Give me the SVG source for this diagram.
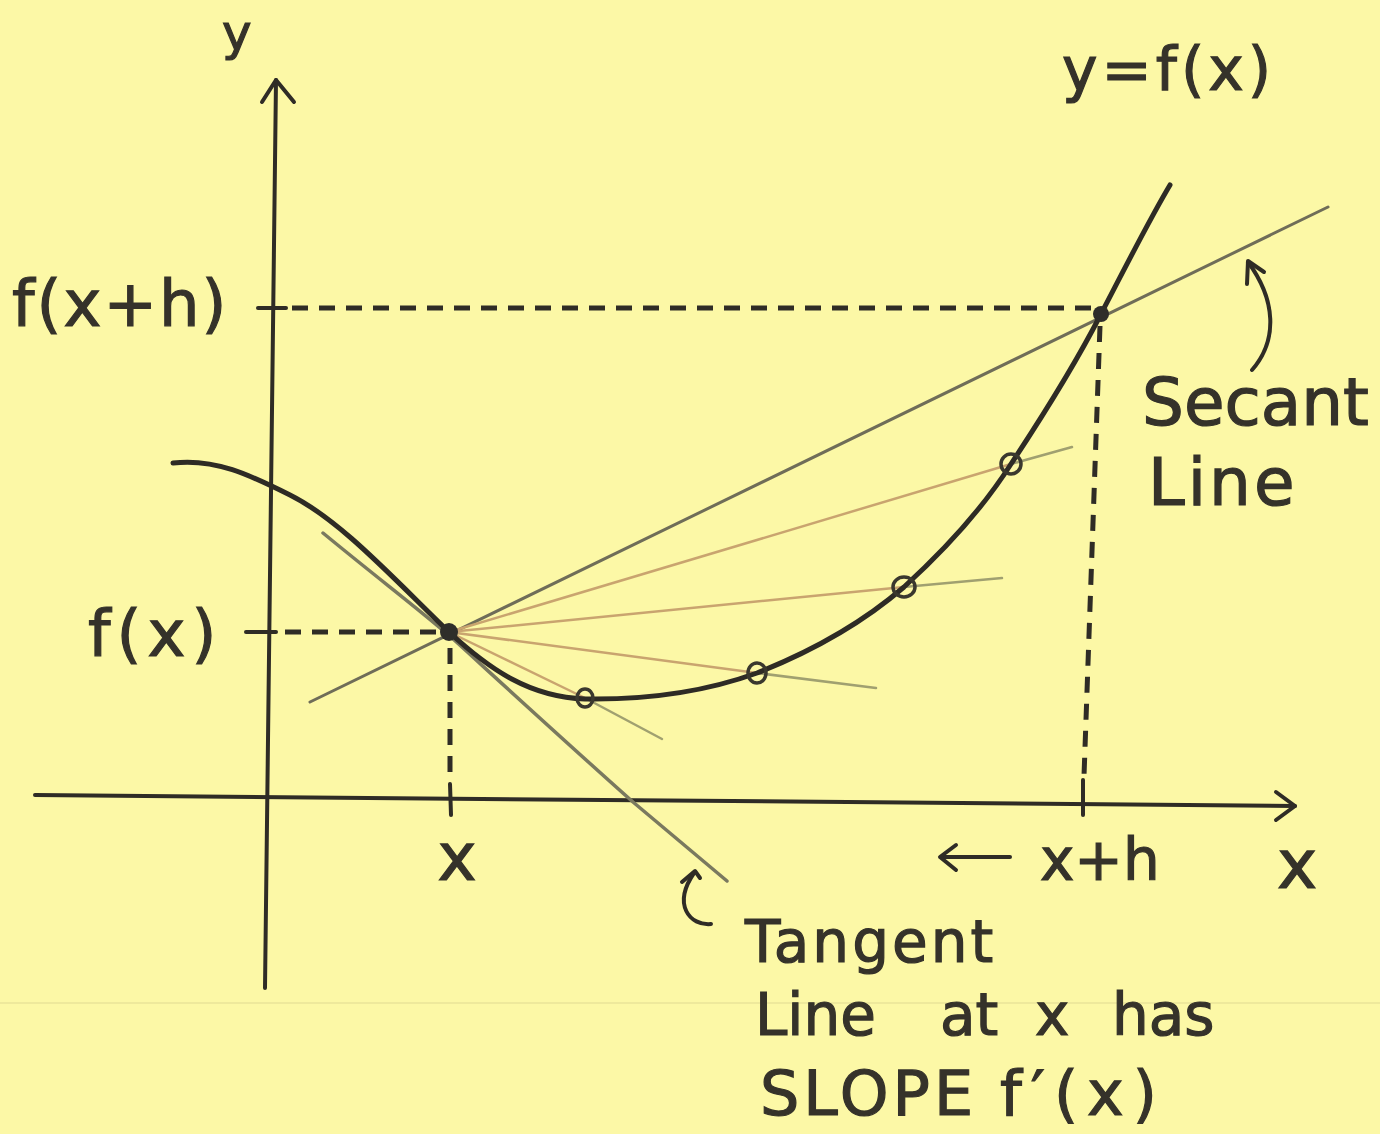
<svg xmlns="http://www.w3.org/2000/svg" width="1380" height="1134" viewBox="0 0 1380 1134">
<style>
.ink{stroke:#2f2c26;fill:none;stroke-linecap:round;stroke-linejoin:round}
.axis{stroke-width:4}
.dash{stroke:#2f2c26;stroke-width:5;stroke-dasharray:16 11;fill:none}
.curve{stroke:#2e2b25;stroke-width:5;fill:none;stroke-linecap:round}
.sec{stroke:#6f6d58;stroke-width:3;fill:none;stroke-linecap:round}
.tan{stroke:#7a795f;stroke-width:3.5;fill:none;stroke-linecap:round}
.fan{stroke:#c9a46f;stroke-width:2.5;fill:none}
.ext{stroke:#a0a070;stroke-width:2.5;fill:none;stroke-linecap:round}
.ring{stroke:#3a382e;stroke-width:3.5;fill:none}
.lbl{font-family:"DejaVu Sans",sans-serif;fill:#35322a;stroke:#35322a;stroke-width:1.2}
</style>
<rect width="1380" height="1134" fill="#fcf8a6"/>
<line x1="0" y1="1003" x2="1380" y2="1003" stroke="#eee99c" stroke-width="2"/>

<g id="axes">
  <path class="ink axis" d="M276,80 L265,988"/>
  <path class="ink axis" d="M262,102 L276,80 L294,102"/>
  <path class="ink axis" d="M35,795 L1295,806"/>
  <path class="ink axis" d="M1276,792 L1295,806 L1276,820"/>
  <path class="ink axis" d="M258,308 L286,308"/>
  <path class="ink axis" d="M246,632 L276,632"/>
  <path class="ink axis" d="M450,784 L451,815"/>
  <path class="ink axis" d="M1083,780 L1083,815"/>
</g>

<g id="connectors">
  <path class="dash" d="M292,308 L1092,308"/>
  <path class="dash" d="M285,632 L440,632"/>
  <path class="dash" d="M450,648 L450,782"/>
  <path class="dash" d="M1100,326 L1084,776"/>
  <path class="tan" d="M323,533 C380,580 420,610 452,638 C520,700 580,755 633,802 L727,881"/>
  <path class="sec" d="M310,702 L1328,207"/>
  <path class="fan" d="M449,632 L1011,464"/>
  <path class="ext" d="M1011,464 L1072,447"/>
  <path class="fan" d="M449,632 L904,587"/>
  <path class="ext" d="M904,587 L1002,578"/>
  <path class="fan" d="M449,632 L757,673"/>
  <path class="ext" d="M757,673 L876,688"/>
  <path class="fan" d="M449,632 L585,698"/>
  <path class="ext" d="M585,698 L662,739"/>
  <path class="ink" stroke-width="4" d="M1252,370 C1278,340 1276,300 1248,262"/>
  <path class="ink" stroke-width="4" d="M1247,284 L1248,261 L1264,272"/>
  <path class="ink" stroke-width="4" d="M711,924 C690,926 672,905 694,873"/>
  <path class="ink" stroke-width="4" d="M682,882 L695,871 L700,878"/>
  <path class="ink" stroke-width="4" d="M1010,857 L942,857"/>
  <path class="ink" stroke-width="4" d="M956,845 L940,857 L956,870"/>
</g>

<g id="curve">
  <path class="curve" d="M173,463 C215,458 250,475 290,495 C340,520 390,575 449,632 C490,670 530,697 585,699 C650,700 710,690 757,673 C810,652 860,625 904,587 C950,545 985,505 1011,464 C1050,405 1080,355 1101,314 C1125,268 1148,222 1170,185"/>
</g>

<g id="point-x"><circle cx="449" cy="632" r="9" fill="#2f2e2a"/></g>
<g id="point-xh"><circle cx="1101" cy="314" r="8" fill="#2f2e2a"/></g>
<g id="circle-1"><ellipse class="ring" cx="585" cy="698" rx="8" ry="9"/></g>
<g id="circle-2"><ellipse class="ring" cx="757" cy="673" rx="9" ry="10"/></g>
<g id="circle-3"><ellipse class="ring" cx="904" cy="587" rx="11" ry="10"/></g>
<g id="circle-4"><ellipse class="ring" cx="1011" cy="464" rx="10" ry="10"/></g>

<g id="label-y"><text class="lbl" x="222" y="50" font-size="50">y</text></g>
<g id="label-yfx"><text class="lbl" x="1062" y="90" font-size="60" letter-spacing="4">y=f(x)</text></g>
<g id="label-fxh"><text class="lbl" x="12" y="326" font-size="64" letter-spacing="2">f(x+h)</text></g>
<g id="label-fx"><text class="lbl" x="88" y="656" font-size="64" letter-spacing="6">f(x)</text></g>
<g id="label-secant"><text class="lbl" x="1142" y="425" font-size="66">Secant</text><text class="lbl" x="1148" y="505" font-size="66" letter-spacing="3">Line</text></g>
<g id="label-x"><text class="lbl" x="457" y="880" font-size="66" text-anchor="middle">x</text></g>
<g id="label-xh"><text class="lbl" x="1040" y="880" font-size="58">x+h</text></g>
<g id="label-xaxis"><text class="lbl" x="1297" y="888" font-size="68" text-anchor="middle">x</text></g>
<g id="label-tangent">
  <text class="lbl" x="745" y="962" font-size="58" letter-spacing="3">Tangent</text>
  <text class="lbl" y="1035" font-size="58"><tspan x="755">Line</tspan><tspan x="940">at</tspan><tspan x="1035">x</tspan><tspan x="1112">has</tspan></text>
  <text class="lbl" y="1115" font-size="62"><tspan x="760" letter-spacing="4">SLOPE</tspan><tspan x="1000" letter-spacing="9">f′(x)</tspan></text>
</g>
</svg>
